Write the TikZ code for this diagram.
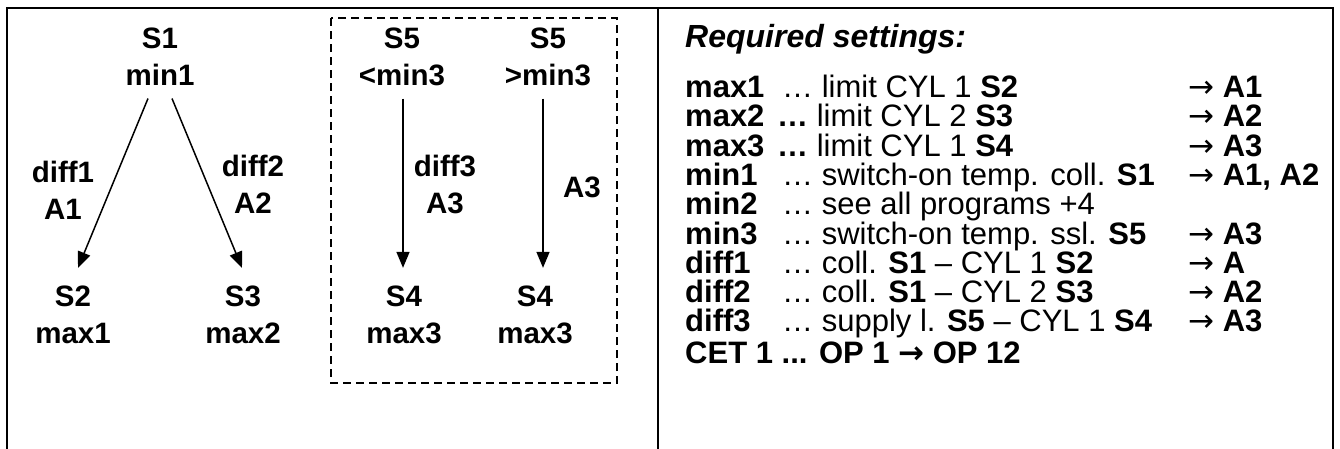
\documentclass[tikz,border=0pt]{standalone}
\usepackage{fontspec}
\setmainfont{Liberation Sans}
\newfontfamily\arrowfont{DejaVu Sans}
\newcommand\rarr{{\arrowfont →}}
\usetikzlibrary{arrows.meta}

\begin{document}
\begin{tikzpicture}[x=1pt,y=-1pt,
  lbl/.style={font=\fontsize{29.5}{37}\selectfont\bfseries, align=center, inner sep=0pt},
  flow/.style={line width=1.5pt, -{Triangle[length=16pt,width=13pt]}},
  frame/.style={line width=2pt},
  group/.style={line width=1.1pt, dash pattern=on 8pt off 5pt},
  rowbase/.style={anchor=base west, inner sep=0pt, text height=21pt, text depth=5pt,
    font=\fontsize{31}{30}\selectfont},
  rowlbl/.style={rowbase, font=\fontsize{31}{30}\selectfont\bfseries},
]
\useasboundingbox (0,0) rectangle (1340,448);

% outer frame, open at the bottom, and the divider
\draw[frame] (7,470) -- (7,8) -- (1333,8) -- (1333,470);
\draw[frame] (658,8) -- (658,470);

% collector branch
\node[lbl] (s1) at (160,56.5) {S1\\min1};
\node[lbl] (s2) at (73,315) {S2\\max1};
\node[lbl] (s3) at (243,315) {S3\\max2};
\draw[flow] ([xshift=-12pt,yshift=-13pt]s1.south) -- ([xshift=5pt,yshift=18pt]s2.north);
\draw[flow] ([xshift=12pt,yshift=-13pt]s1.south) -- ([xshift=-1pt,yshift=18pt]s3.north);
\node[lbl] (d1) at (63,190.5) {diff1\\A1};
\node[lbl] (d2) at (253,184.5) {diff2\\A2};

% solid-fuel group
\draw[group] (331,18) rectangle (617,383);
\node[lbl] (s5a) at (402,56.5) {S5\\<min3};
\node[lbl] (s5b) at (548,56.5) {S5\\>min3};
\node[lbl] (s4a) at (404,315) {S4\\max3};
\node[lbl] (s4b) at (535,315) {S4\\max3};
\draw[flow] ([xshift=1pt,yshift=-13pt]s5a.south) -- ([xshift=-1pt,yshift=18pt]s4a.north);
\draw[flow] ([xshift=-5pt,yshift=-13pt]s5b.south) -- ([xshift=8pt,yshift=18pt]s4b.north);
\node[lbl] (d3) at (445,184.5) {diff3\\A3};
\node[lbl] (a3) at (582,187) {A3};

% settings list
\node[rowbase, font=\fontsize{32}{32}\selectfont\bfseries\itshape] (title) at (685,47) {Required settings:};

\node[rowlbl] (k1) at (685,97) {max1};
\node[rowbase] (t1) at (782,97) {… limit CYL 1 \textbf{S2}};
\node[rowbase] (r1) at (1188,97) {\rarr\ \textbf{A1}};

\node[rowlbl] (k2) at (685,126.5) {max2};
\node[rowbase] (t2) at (777,126.5) {\textbf{…} limit CYL 2 \textbf{S3}};
\node[rowbase] (r2) at (1188,126.5) {\rarr\ \textbf{A2}};

\node[rowlbl] (k3) at (685,156) {max3};
\node[rowbase] (t3) at (777,156) {\textbf{…} limit CYL 1 \textbf{S4}};
\node[rowbase] (r3) at (1188,156) {\rarr\ \textbf{A3}};

\node[rowlbl] (k4) at (685,185.5) {min1};
\node[rowbase] (t4) at (782,185.5) {… switch-on temp. coll. \textbf{S1}};
\node[rowbase] (r4) at (1188,185.5) {\rarr\ \textbf{A1, A2}};

\node[rowlbl] (k5) at (685,214.5) {min2};
\node[rowbase] (t5) at (782,214.5) {… see all programs +4};

\node[rowlbl] (k6) at (685,244) {min3};
\node[rowbase] (t6) at (782,244) {… switch-on temp. ssl. \textbf{S5}};
\node[rowbase] (r6) at (1188,244) {\rarr\ \textbf{A3}};

\node[rowlbl] (k7) at (685,273) {diff1};
\node[rowbase] (t7) at (782,273) {… coll. \textbf{S1} – CYL 1 \textbf{S2}};
\node[rowbase] (r7) at (1188,273) {\rarr\ \textbf{A}};

\node[rowlbl] (k8) at (685,302.5) {diff2};
\node[rowbase] (t8) at (782,302.5) {… coll. \textbf{S1} – CYL 2 \textbf{S3}};
\node[rowbase] (r8) at (1188,302.5) {\rarr\ \textbf{A2}};

\node[rowlbl] (k9) at (685,331.5) {diff3};
\node[rowbase] (t9) at (782,331.5) {… supply l. \textbf{S5} – CYL 1 \textbf{S4}};
\node[rowbase] (r9) at (1188,331.5) {\rarr\ \textbf{A3}};

\node[rowlbl] (cet) at (685,363) {CET 1 ... OP 1 \rarr\ OP 12};
\end{tikzpicture}
\end{document}
